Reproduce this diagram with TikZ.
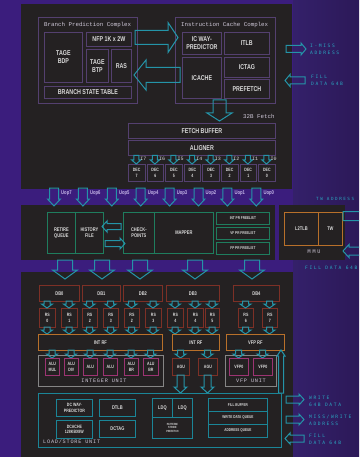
\documentclass[tikz,border=0pt]{standalone}
\usepackage{fontspec}
\newfontfamily\lbl[FakeStretch=0.76]{Liberation Sans}
\newfontfamily\mono{Liberation Mono}
\newfontfamily\spc[LetterSpace=35]{DejaVu Sans Mono}
\newfontfamily\spcb[LetterSpace=15]{Liberation Mono}
\definecolor{bgp}{HTML}{3B1D7D}
\definecolor{rbg}{HTML}{2C1958}
\definecolor{rbg2}{HTML}{34206A}
\definecolor{panel}{HTML}{242122}
\definecolor{pbox}{HTML}{54406F}
\definecolor{teal}{HTML}{2494A8}
\definecolor{grn}{HTML}{1F7D5E}
\definecolor{org}{HTML}{B8702A}
\definecolor{brn}{HTML}{7D3026}
\definecolor{mag}{HTML}{9C3472}
\definecolor{gry}{HTML}{858585}
\definecolor{lsu}{HTML}{1B8597}
\definecolor{txt}{HTML}{DADADA}
\definecolor{uopc}{HTML}{C4B5E6}
\definecolor{cyt}{HTML}{2AA5C0}
\definecolor{ttl}{HTML}{CFC8D8}
\tikzset{
  box/.style={draw=#1, line width=0.8pt, anchor=north west, inner sep=0pt, align=center, text=txt,
    font={\lbl\bfseries\fontsize{7}{8}\selectfont}},
  small/.style={font={\lbl\bfseries\fontsize{5.3}{6}\selectfont}},
  tiny/.style={font={\lbl\bfseries\fontsize{4.7}{5.2}\selectfont}},
  tinier/.style={font={\lbl\bfseries\fontsize{4.1}{4.6}\selectfont}},
  arr/.style={draw=teal, line width=1pt, line join=miter},
  ttlt/.style={anchor=west, inner sep=0pt, text=ttl, font={\mono\fontsize{5.8}{6}\selectfont}},
  sidet/.style={anchor=west, inner sep=0pt, text=cyt, align=left, font={\spc\fontsize{4.6}{7}\selectfont}},
  uopt/.style={anchor=west, inner sep=0pt, text=uopc, font={\lbl\bfseries\fontsize{5.5}{6}\selectfont}},
  numt/.style={anchor=west, inner sep=0pt, text=txt, font={\mono\fontsize{5}{6}\selectfont}},
  unitt/.style={inner sep=0pt, text=ttl, font={\spcb\fontsize{5.2}{6}\selectfont}},
}
% box: [extra]{colour}{name}{x1}{y1}{x2}{y2}{text}
\newcommand\bx[8][]{\node[box=#2,minimum width={(#6-#4)*1pt},minimum height={(#7-#5)*1pt},#1] (#3) at (#4,#5) {#8};}
% down arrow: cx, ytop, ybot, shaft half, head half, head len
\newcommand\darr[6]{\draw[arr] (#1-#4,#2) -- (#1+#4,#2) -- (#1+#4,#3-#6) -- (#1+#5,#3-#6) -- (#1,#3) -- (#1-#5,#3-#6) -- (#1-#4,#3-#6) -- cycle;}
% up arrow: cx, ybot, ytop, ...
\newcommand\uarr[6]{\draw[arr] (#1-#4,#2) -- (#1+#4,#2) -- (#1+#4,#3+#6) -- (#1+#5,#3+#6) -- (#1,#3) -- (#1-#5,#3+#6) -- (#1-#4,#3+#6) -- cycle;}
% right arrow: cy, xleft, xtip, ...
\newcommand\rarr[6]{\draw[arr] (#2,#1-#4) -- (#3-#6,#1-#4) -- (#3-#6,#1-#5) -- (#3,#1) -- (#3-#6,#1+#5) -- (#3-#6,#1+#4) -- (#2,#1+#4) -- cycle;}
% left arrow: cy, xtip, xright, ...
\newcommand\larr[6]{\draw[arr] (#3,#1-#4) -- (#2+#6,#1-#4) -- (#2+#6,#1-#5) -- (#2,#1) -- (#2+#6,#1+#5) -- (#2+#6,#1+#4) -- (#3,#1+#4) -- cycle;}
\begin{document}
\begin{tikzpicture}[x=1pt,y=-1pt]
\clip (0,0) rectangle (359,457);
\fill[bgp] (0,0) rectangle (359,457);
\shade[left color=rbg2, right color=rbg] (293,0) rectangle (359,457);
% panels
\fill[panel] (21,4) rectangle (292,189);
\fill[panel] (21,205) rectangle (275,260);
\fill[panel] (279,205) rectangle (345,260);
\fill[panel] (21,272) rectangle (293,457);

% ---------- Branch prediction complex
\draw[pbox, line width=0.8pt] (38,17) rectangle (137,103);
\node[ttlt] (bpct) at (44,25) {Branch Prediction Complex};
\bx{pbox}{tagebdp}{44}{32}{82}{82}{TAGE\\BDP}
\bx{pbox}{nfp}{86}{32}{131}{46}{NFP 1K x 2W}
\bx{pbox}{tagebtp}{86}{49}{108}{82}{TAGE\\BTP}
\bx{pbox}{ras}{111}{49}{131}{82}{RAS}
\bx{pbox}{bst}{44}{86}{131}{98}{BRANCH STATE TABLE}

% ---------- Instruction cache complex
\draw[pbox, line width=0.8pt] (175,17) rectangle (275,103);
\node[ttlt] (icct) at (181,25) {Instruction Cache Complex};
\bx{pbox}{icwp}{182}{32}{221}{54}{IC WAY-\\PREDICTOR}
\bx{pbox}{itlb}{224}{32}{269}{54}{ITLB}
\bx{pbox}{icache}{182}{57}{221}{98}{ICACHE}
\bx{pbox}{ictag}{224}{57}{269}{77}{ICTAG}
\bx{pbox}{prefetch}{224}{79}{269}{98}{PREFETCH}

% arrows between complexes
\rarr{37.5}{135}{178}{7}{15}{10}
\larr{75}{134}{180}{7.5}{15}{12}

% side arrows (top)
\rarr{49}{286}{306}{3.5}{6}{5}
\node[sidet] (imiss) at (310,49.5) {I-MISS\\ADDRESS};
\larr{80.5}{285}{305}{3.5}{6}{5}
\node[sidet] (fill1) at (311,80.5) {FILL\\DATA 64B};

% fetch
\darr{219.5}{100}{121}{6.5}{12.5}{8}
\node[ttlt] (f32) at (243,116) {32B Fetch};
\bx{pbox}{fbuf}{128}{123}{275}{138}{FETCH BUFFER}
\bx{pbox}{align}{128}{140}{275}{155}{ALIGNER}

\foreach \k in {0,...,7}{
  \pgfmathsetmacro\xa{128+18.6*\k}
  \pgfmathsetmacro\xb{\xa+16.5}
  \pgfmathsetmacro\xc{\xa+8.25}
  \pgfmathtruncatemacro\d{7-\k}
  \bx[tiny]{pbox}{dec\d}{\xa}{164}{\xb}{181}{DEC\\\d}
  \darr{\xc}{155.5}{164}{2.5}{4.5}{4}
  \node[numt] (ins\d) at (\xc+4,158.5) {I\d};
}

% uop arrows
\foreach \k in {0,...,7}{
  \pgfmathsetmacro\xu{54+28.9*\k}
  \pgfmathtruncatemacro\u{7-\k}
  \darr{\xu}{188}{206}{4.5}{6.5}{7}
  \node[uopt] (uop\u) at (\xu+7,193) {Uop\u};
}

% ---------- Rename
\bx[small]{grn}{rq}{47}{212}{75}{253}{RETIRE\\QUEUE}
\bx[small]{grn}{hf}{75}{212}{103}{253}{HISTORY\\FILE}
\bx[small]{grn}{cp}{123}{212}{154}{253}{CHECK-\\POINTS}
\bx[small]{grn}{mapper}{154}{212}{213}{253}{MAPPER}
\larr{226.5}{102}{121}{3}{5.5}{5}
\rarr{243.5}{105}{125}{3}{5.5}{5}
\bx[tinier]{grn}{intfl}{216}{212}{269}{224}{INT PR FREELIST}
\bx[tinier]{grn}{vffl}{216}{227}{269}{239}{VF PR FREELIST}
\bx[tinier]{grn}{fpfl}{216}{242}{269}{254}{FP PR FREELIST}

% ---------- MMU
\bx[small]{org}{l2tlb}{284}{212}{318}{245}{L2TLB}
\bx[small]{org}{tw}{318}{212}{342}{245}{TW}
\node[inner sep=0pt, text=ttl, font={\spc\fontsize{5}{6}\selectfont}] (mmu) at (314,252) {MMU};
\node[sidet, font={\spc\fontsize{4.3}{6}\selectfont}] (twaddr) at (316,199) {TW ADDRESS};
\rarr{216}{343}{372}{4.5}{7}{6}
\larr{251}{343}{372}{4}{6.5}{6}
\node[sidet] (fill2) at (305,268) {FILL DATA 64B};

% rename -> exec arrows
\foreach \xd in {65,102,140,195,252}{
  \darr{\xd}{260}{279}{7.5}{12.5}{9}
}

% ---------- Dispatch buffers
\bx[small]{brn}{db0}{39}{285}{79}{301}{DB0}
\bx[small]{brn}{db1}{82}{285}{120}{301}{DB1}
\bx[small]{brn}{db2}{123}{285}{162}{301}{DB2}
\bx[small]{brn}{db3}{166}{285}{219}{301}{DB3}
\bx[small]{brn}{db4}{233}{285}{279}{301}{DB4}

% RS boxes: x1,x2,number,name
\foreach \xa/\xb/\n/\nm in {39/55/0/rsa,61/77/1/rsb,82/97/2/rsc,103/118/3/rsd,124/139/2/rse,145/161/3/rsf,167/183/4/rsg,187/203/4/rsh,205/219/5/rsi,238/253/6/rsj,262/277/7/rsk}{
  \pgfmathsetmacro\xc{(\xa+\xb)/2}
  \bx[tiny]{brn}{\nm}{\xa}{308}{\xb}{327}{RS\\\n}
  \darr{\xc}{301}{308}{3}{5.5}{4}
  \darr{\xc}{327}{334}{3}{5.5}{4}
}

% register files
\bx[small]{org}{intrf1}{38}{334}{162}{350}{INT RF}
\bx[small]{org}{intrf2}{172}{334}{219}{350}{INT RF}
\bx[small]{org}{vfprf}{226}{334}{284}{350}{VFP RF}

% integer unit
\draw[gry, line width=0.8pt] (38,355) rectangle (163,386);
\node[unitt] (iu) at (104,381) {INTEGER UNIT};
\foreach \xa/\xb/\t/\nm in {45/59/{ALU\\MUL}/alu1,64/78/{ALU\\DIV}/alu2,83/97/{ALU}/alu3,103/117/{ALU}/alu4,124/138/{ALU\\BR}/alu5,143/158/{ALU\\BR}/alu6}{
  \pgfmathsetmacro\xc{(\xa+\xb)/2}
  \darr{\xc}{350}{358}{3}{5.5}{4}
  \bx[tiny]{mag}{\nm}{\xa}{358}{\xb}{375}{\t}
}
% AGUs
\darr{180.5}{350}{358}{3}{5.5}{4}
\darr{207.5}{350}{358}{3}{5.5}{4}
\bx[tiny]{brn}{agu1}{172}{358}{189}{375}{AGU}
\bx[tiny]{brn}{agu2}{198}{358}{217}{375}{AGU}
\darr{180.5}{375}{393}{3.5}{6.5}{6}
\darr{207.5}{375}{393}{3.5}{6.5}{6}

% VFP unit
\draw[gry, line width=0.8pt] (225,355) rectangle (276,386);
\node[unitt] (vu) at (251,381) {VFP UNIT};
\darr{238.5}{350}{358}{3}{5.5}{4}
\darr{262.5}{350}{358}{3}{5.5}{4}
\bx[tiny]{mag}{vfp1}{229}{358}{248}{375}{VFP0}
\bx[tiny]{mag}{vfp2}{253}{358}{272}{375}{VFP0}
\uarr{281}{393}{350}{2.5}{4}{6}

% ---------- Load/store unit
\draw[lsu, line width=0.8pt] (38,393) rectangle (281,447);
\node[unitt, anchor=west] (lsut) at (43,442) {LOAD/STORE UNIT};
\bx[tiny]{lsu}{dcwp}{56}{399}{92}{416}{DC WAY-\\PREDICTOR}
\bx[tiny]{lsu}{dcache}{56}{420}{92}{438}{DCACHE\\128KBX8W}
\bx[small]{lsu}{dtlb}{99}{399}{135}{416}{DTLB}
\bx[small]{lsu}{dctag}{99}{420}{135}{437}{DCTAG}
\bx[small]{lsu}{ldq1}{152}{398}{172}{417}{LDQ}
\bx[small]{lsu}{ldq2}{172}{398}{192}{417}{LDQ}
\bx[font={\lbl\bfseries\fontsize{3}{3.5}\selectfont}]{lsu}{pat}{152}{417}{192}{438}{PATTERN/\\STRIDE\\PREFETCH}
\bx[tinier]{lsu}{fillbuf}{208}{398}{267}{411}{FILL BUFFER}
\bx[tinier]{lsu}{wdq}{208}{411}{267}{424}{WRITE DATA QUEUE}
\bx[tinier]{lsu}{aq}{208}{424}{267}{437}{ADDRESS QUEUE}

\rarr{399.5}{286}{304}{3.5}{5.5}{5}
\node[sidet] (w64) at (309,401.5) {WRITE\\64B DATA};
\rarr{419.5}{286}{304}{3.5}{5.5}{5}
\node[sidet] (mwa) at (309,420.5) {MISS/WRITE\\ADDRESS};
\larr{438.5}{285}{304}{3.5}{5.5}{5}
\node[sidet] (fill3) at (309,439.5) {FILL\\DATA 64B};
\end{tikzpicture}
\end{document}
